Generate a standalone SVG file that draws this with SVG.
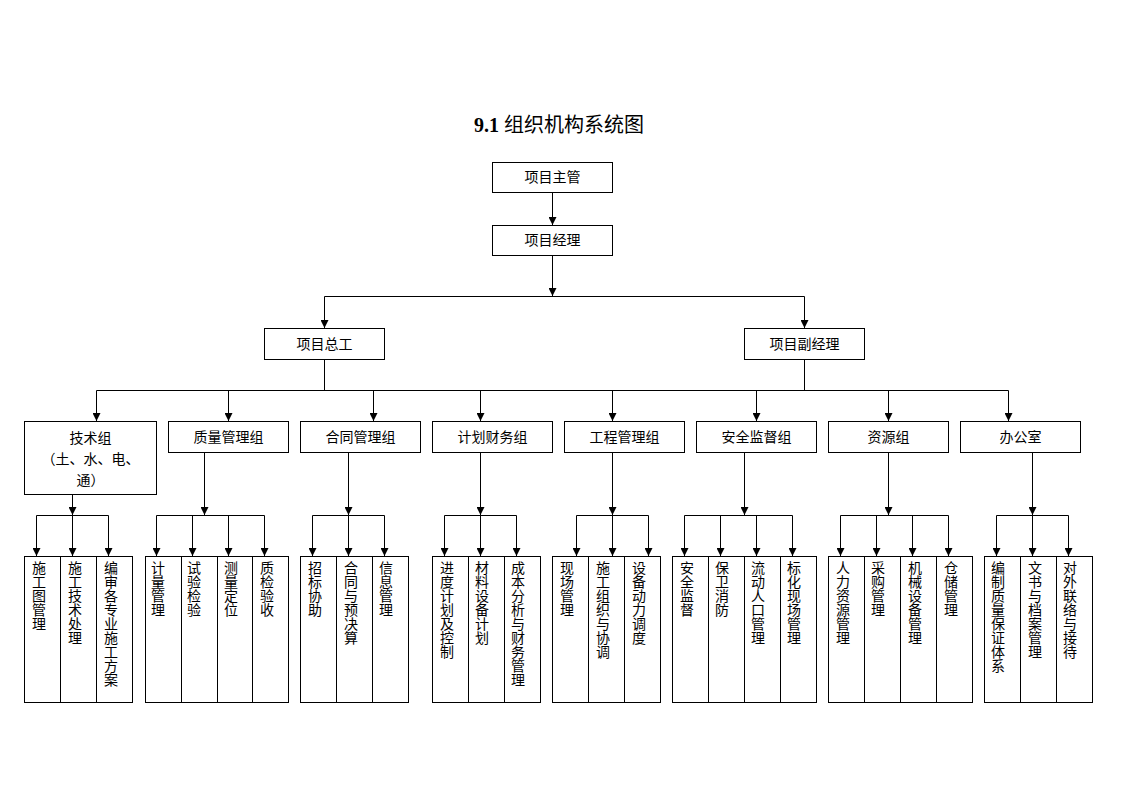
<svg xmlns="http://www.w3.org/2000/svg" width="1123" height="794" viewBox="0 0 1123 794">
<style>
.b{fill:#fff;stroke:#000;stroke-width:1}
.t{font-family:"Noto Sans CJK SC","DejaVu Sans",sans-serif;font-size:14px;fill:#000;text-anchor:middle}
.v{font-family:"Noto Sans CJK SC","DejaVu Sans",sans-serif;font-size:14px;fill:#000;writing-mode:vertical-rl;text-orientation:upright}
.c{fill:none;stroke:#000;stroke-width:1}
.a{fill:none;stroke:#000;stroke-width:1;marker-end:url(#ah)}
.title{font-family:"Liberation Serif","Noto Sans CJK SC",serif;font-size:20px;fill:#000;text-anchor:middle}
</style>
<defs>
<marker id="ah" viewBox="0 0 8 8" refX="8" refY="4" markerWidth="8" markerHeight="8" markerUnits="userSpaceOnUse" orient="auto"><path d="M0,0 L8,4 L0,8 z" fill="#000"/></marker>
</defs>
<rect width="1123" height="794" fill="#fff"/>
<text class="title" x="559" y="132"><tspan font-weight="bold">9.1</tspan> 组织机构系统图</text>

<g id="connectors">
<path class="a" d="M552.5,192 V225"/>
<path class="a" d="M552.5,255 V296"/>
<path class="c" d="M324.5,296.5 H804.5"/>
<path class="a" d="M324.5,296.5 V328"/>
<path class="a" d="M804.5,296.5 V328"/>
<path class="c" d="M324.5,359 V390.5 M804.5,359 V390.5 M96.5,390.5 H1008.5"/>
<path class="a" d="M96.5,390.5 V421"/>
<path class="a" d="M228.5,390.5 V421"/>
<path class="a" d="M373.5,390.5 V421"/>
<path class="a" d="M480.5,390.5 V421"/>
<path class="a" d="M612.5,390.5 V421"/>
<path class="a" d="M756.5,390.5 V421"/>
<path class="a" d="M888.5,390.5 V421"/>
<path class="a" d="M1008.5,390.5 V421"/>
<path class="a" d="M72.5,494 V515"/>
<path class="a" d="M204.5,452 V515"/>
<path class="a" d="M348.5,452 V515"/>
<path class="a" d="M480.5,452 V515"/>
<path class="a" d="M612.5,452 V515"/>
<path class="a" d="M744.5,452 V515"/>
<path class="a" d="M888.5,452 V515"/>
<path class="a" d="M1032.5,452 V515"/>
<path class="c" d="M36.5,515.5 H108.5 M156.5,515.5 H264.5 M312.5,515.5 H384.5 M444.5,515.5 H516.5 M576.5,515.5 H648.5 M684.5,515.5 H792.5 M840.5,515.5 H948.5 M996.5,515.5 H1068.5"/>
<path class="a" d="M36.5,515.5 V556"/><path class="a" d="M72.5,515.5 V556"/><path class="a" d="M108.5,515.5 V556"/>
<path class="a" d="M156.5,515.5 V556"/><path class="a" d="M192.5,515.5 V556"/><path class="a" d="M228.5,515.5 V556"/><path class="a" d="M264.5,515.5 V556"/>
<path class="a" d="M312.5,515.5 V556"/><path class="a" d="M348.5,515.5 V556"/><path class="a" d="M384.5,515.5 V556"/>
<path class="a" d="M444.5,515.5 V556"/><path class="a" d="M480.5,515.5 V556"/><path class="a" d="M516.5,515.5 V556"/>
<path class="a" d="M576.5,515.5 V556"/><path class="a" d="M612.5,515.5 V556"/><path class="a" d="M648.5,515.5 V556"/>
<path class="a" d="M684.5,515.5 V556"/><path class="a" d="M720.5,515.5 V556"/><path class="a" d="M756.5,515.5 V556"/><path class="a" d="M792.5,515.5 V556"/>
<path class="a" d="M840.5,515.5 V556"/><path class="a" d="M876.5,515.5 V556"/><path class="a" d="M912.5,515.5 V556"/><path class="a" d="M948.5,515.5 V556"/>
<path class="a" d="M996.5,515.5 V556"/><path class="a" d="M1032.5,515.5 V556"/><path class="a" d="M1068.5,515.5 V556"/>
</g>

<g id="n-zhuguan"><rect class="b" x="492.5" y="162.5" width="120" height="30"/><text class="t" x="552.5" y="182">项目主管</text></g>
<g id="n-jingli"><rect class="b" x="492.5" y="225.5" width="120" height="30"/><text class="t" x="552.5" y="245">项目经理</text></g>
<g id="n-zonggong"><rect class="b" x="264.5" y="328.5" width="120" height="31"/><text class="t" x="324.5" y="349">项目总工</text></g>
<g id="n-fujingli"><rect class="b" x="744.5" y="328.5" width="120" height="31"/><text class="t" x="804.5" y="349">项目副经理</text></g>

<g id="n-jishu"><rect class="b" x="24.5" y="421.5" width="132" height="73"/><text class="t" x="90.5" y="443">技术组</text><text class="t" x="90.5" y="464">（土、水、电、</text><text class="t" x="90.5" y="485">通）</text></g>
<g id="n-zhiliang"><rect class="b" x="168.5" y="421.5" width="120" height="31"/><text class="t" x="228.5" y="442">质量管理组</text></g>
<g id="n-hetong"><rect class="b" x="300.5" y="421.5" width="120" height="31"/><text class="t" x="360.5" y="442">合同管理组</text></g>
<g id="n-jihua"><rect class="b" x="432.5" y="421.5" width="120" height="31"/><text class="t" x="492.5" y="442">计划财务组</text></g>
<g id="n-gongcheng"><rect class="b" x="564.5" y="421.5" width="120" height="31"/><text class="t" x="624.5" y="442">工程管理组</text></g>
<g id="n-anquan"><rect class="b" x="696.5" y="421.5" width="120" height="31"/><text class="t" x="756.5" y="442">安全监督组</text></g>
<g id="n-ziyuan"><rect class="b" x="828.5" y="421.5" width="120" height="31"/><text class="t" x="888.5" y="442">资源组</text></g>
<g id="n-bangong"><rect class="b" x="960.5" y="421.5" width="120" height="31"/><text class="t" x="1020.5" y="442">办公室</text></g>

<g id="s-1"><rect class="b" x="24.5" y="556.5" width="36" height="146"/><text class="v" x="39" y="561">施工图管理</text></g>
<g id="s-2"><rect class="b" x="60.5" y="556.5" width="36" height="146"/><text class="v" x="75" y="561">施工技术处理</text></g>
<g id="s-3"><rect class="b" x="96.5" y="556.5" width="36" height="146"/><text class="v" x="111" y="561">编审各专业施工方案</text></g>

<g id="s-4"><rect class="b" x="145.5" y="556.5" width="36" height="146"/><text class="v" x="158" y="561">计量管理</text></g>
<g id="s-5"><rect class="b" x="181.5" y="556.5" width="36" height="146"/><text class="v" x="194" y="561">试验检验</text></g>
<g id="s-6"><rect class="b" x="217.5" y="556.5" width="35" height="146"/><text class="v" x="231" y="561">测量定位</text></g>
<g id="s-7"><rect class="b" x="252.5" y="556.5" width="36" height="146"/><text class="v" x="267" y="561">质检验收</text></g>

<g id="s-8"><rect class="b" x="300.5" y="556.5" width="36" height="146"/><text class="v" x="315" y="561">招标协助</text></g>
<g id="s-9"><rect class="b" x="336.5" y="556.5" width="36" height="146"/><text class="v" x="351" y="561">合同与预决算</text></g>
<g id="s-10"><rect class="b" x="372.5" y="556.5" width="36" height="146"/><text class="v" x="386" y="561">信息管理</text></g>

<g id="s-11"><rect class="b" x="432.5" y="556.5" width="36" height="146"/><text class="v" x="447" y="561">进度计划及控制</text></g>
<g id="s-12"><rect class="b" x="468.5" y="556.5" width="36" height="146"/><text class="v" x="482" y="561">材料设备计划</text></g>
<g id="s-13"><rect class="b" x="504.5" y="556.5" width="36" height="146"/><text class="v" x="518" y="561">成本分析与财务管理</text></g>

<g id="s-14"><rect class="b" x="552.5" y="556.5" width="36" height="146"/><text class="v" x="567" y="561">现场管理</text></g>
<g id="s-15"><rect class="b" x="588.5" y="556.5" width="36" height="146"/><text class="v" x="603" y="561">施工组织与协调</text></g>
<g id="s-16"><rect class="b" x="624.5" y="556.5" width="36" height="146"/><text class="v" x="639" y="561">设备动力调度</text></g>

<g id="s-17"><rect class="b" x="672.5" y="556.5" width="36" height="146"/><text class="v" x="687" y="561">安全监督</text></g>
<g id="s-18"><rect class="b" x="708.5" y="556.5" width="36" height="146"/><text class="v" x="722" y="561">保卫消防</text></g>
<g id="s-19"><rect class="b" x="744.5" y="556.5" width="36" height="146"/><text class="v" x="758" y="561">流动人口管理</text></g>
<g id="s-20"><rect class="b" x="780.5" y="556.5" width="36" height="146"/><text class="v" x="794" y="561">标化现场管理</text></g>

<g id="s-21"><rect class="b" x="828.5" y="556.5" width="36" height="146"/><text class="v" x="843" y="561">人力资源管理</text></g>
<g id="s-22"><rect class="b" x="864.5" y="556.5" width="36" height="146"/><text class="v" x="878" y="561">采购管理</text></g>
<g id="s-23"><rect class="b" x="900.5" y="556.5" width="36" height="146"/><text class="v" x="915" y="561">机械设备管理</text></g>
<g id="s-24"><rect class="b" x="936.5" y="556.5" width="36" height="146"/><text class="v" x="951" y="561">仓储管理</text></g>

<g id="s-25"><rect class="b" x="984.5" y="556.5" width="36" height="146"/><text class="v" x="998" y="561">编制质量保证体系</text></g>
<g id="s-26"><rect class="b" x="1020.5" y="556.5" width="36" height="146"/><text class="v" x="1035" y="561">文书与档案管理</text></g>
<g id="s-27"><rect class="b" x="1056.5" y="556.5" width="36" height="146"/><text class="v" x="1070" y="561">对外联络与接待</text></g>
</svg>
